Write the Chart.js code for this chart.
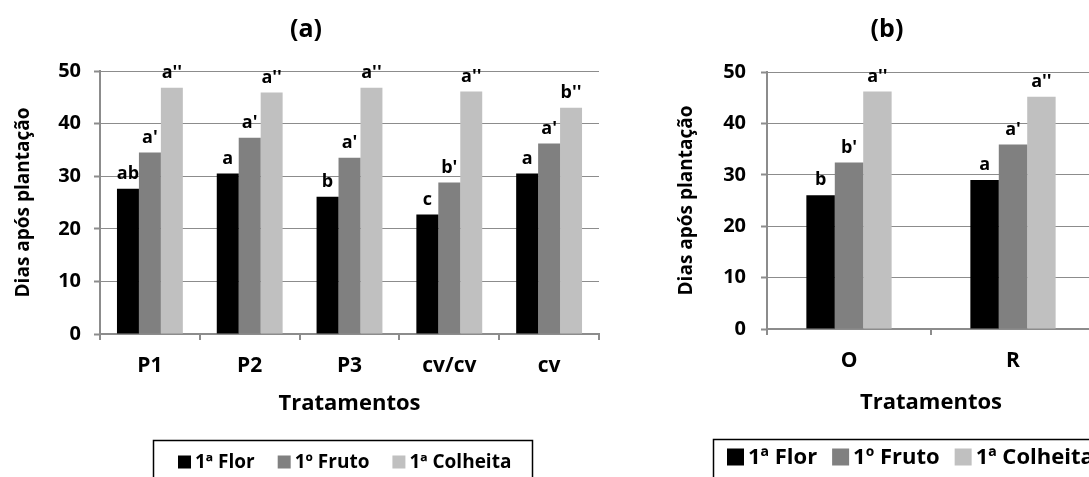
<!DOCTYPE html>
<html>
<head>
<meta charset="utf-8">
<script src="https://cdn.jsdelivr.net/npm/chart.js@4.4.1/dist/chart.umd.min.js"></script>
<style>
  html, body { margin: 0; padding: 0; background: #fff; overflow: hidden; width: 1089px; height: 477px; }
  canvas { position: absolute; top: 0; }
  #graficoA { left: 0; }
  #graficoB { left: 665px; }
</style>
</head>
<body>
<canvas id="graficoA" width="620" height="477"></canvas>
<canvas id="graficoB" width="435" height="477"></canvas>
<script>
// ==== dados ====
const series = ['1ª Flor', '1º Fruto', '1ª Colheita'];
const cores = ['#000000', '#808080', '#c0c0c0'];

// grafico (a)
const categoriasA = ['P1', 'P2', 'P3', 'cv/cv', 'cv'];
const florA = [27.6, 30.5, 26.1, 22.7, 30.5];
const frutoA = [34.5, 37.3, 33.5, 28.8, 36.2];
const colheitaA = [46.8, 45.9, 46.8, 46.1, 43.0];
const letrasFlorA = ['ab', 'a', 'b', 'c', 'a'];
const letrasFrutoA = ["a'", "a'", "a'", "b'", "a'"];
const letrasColheitaA = ["a''", "a''", "a''", "a''", "b''"];

// grafico (b)
const categoriasB = ['O', 'R'];
const florB = [26.0, 29.0];
const frutoB = [32.4, 35.9];
const colheitaB = [46.2, 45.2];
const letrasFlorB = ['b', 'a'];
const letrasFrutoB = ["b'", "a'"];
const letrasColheitaB = ["a''", "a''"];

const yTicks = { min: 0, max: 50, step: 10 };

const FONTE = '"Open Sans", sans-serif';
const CINZA = '#8c8c8c';

// letras de significancia por cima das barras
const letras = {
  id: 'letras',
  afterDatasetsDraw(chart, args, opts) {
    const ctx = chart.ctx;
    ctx.save();
    ctx.font = 'bold ' + opts.size + 'px ' + FONTE;
    ctx.fillStyle = '#000';
    ctx.textAlign = 'center';
    ctx.textBaseline = 'bottom';
    chart.data.datasets.forEach((ds, d) => {
      chart.getDatasetMeta(d).data.forEach((bar, i) => {
        ctx.fillText(ds.letras[i], bar.x, bar.y - opts.gap);
      });
    });
    ctx.restore();
  }
};

// titulo (a)/(b) e legenda com caixa
const extras = {
  id: 'extras',
  afterDraw(chart, args, opts) {
    const ctx = chart.ctx;
    ctx.save();
    ctx.fillStyle = '#000';
    ctx.font = 'bold ' + opts.tituloSize + 'px ' + FONTE;
    ctx.textAlign = 'center';
    ctx.textBaseline = 'middle';
    ctx.fillText(opts.titulo, opts.tituloX, opts.tituloY);

    // legenda
    const L = opts.legenda;
    ctx.font = 'bold ' + L.size + 'px ' + FONTE;
    ctx.textAlign = 'left';
    ctx.strokeStyle = '#000';
    ctx.lineWidth = 1.5;
    ctx.strokeRect(L.x + 0.5, L.y + 0.5, L.w, 60);
    let x = L.x + L.pad;
    chart.data.datasets.forEach((ds) => {
      ctx.fillStyle = ds.backgroundColor;
      ctx.fillRect(x, L.yText - L.box / 2, L.box, L.box);
      ctx.fillStyle = '#000';
      ctx.fillText(ds.label, x + L.box + 4, L.yText + 1);
      x += L.box + 4 + ctx.measureText(ds.label).width + L.gap;
    });
    ctx.restore();
  }
};

function criaGrafico(id, categorias, valores, letrasSerie, cfg) {
  const datasets = series.map((nome, s) => ({
    label: nome,
    data: valores[s],
    letras: letrasSerie[s],
    backgroundColor: cores[s],
    borderWidth: 0,
    categoryPercentage: cfg.catPct,
    barPercentage: 1.0
  }));

  return new Chart(document.getElementById(id), {
    type: 'bar',
    data: { labels: categorias, datasets },
    options: {
      responsive: false,
      animation: false,
      layout: { padding: { left: 0, top: cfg.top, right: cfg.right, bottom: cfg.bottom } },
      scales: {
        x: {
          offset: true,
          afterFit(scale) { scale.height = cfg.xAltura; },
          grid: { offset: true, drawOnChartArea: false, drawTicks: true, tickLength: 6, color: CINZA, lineWidth: 2 },
          border: { display: true, color: CINZA, width: 2 },
          ticks: { color: '#000', font: { family: FONTE, size: 21, weight: 'bold' }, padding: cfg.xPad },
          title: { display: true, text: 'Tratamentos', color: '#000', font: { family: FONTE, size: 22, weight: 'bold' }, padding: { top: 0, bottom: 3 } }
        },
        y: {
          min: yTicks.min,
          max: yTicks.max,
          afterFit(scale) { scale.width = cfg.yLargura; },
          grid: {
            color: (c) => c.tick && c.tick.value === 0 ? 'rgba(0,0,0,0)' : CINZA,
            lineWidth: 1,
            borderDash: [2, 2],
            tickColor: CINZA,
            tickWidth: 2,
            tickBorderDash: [],
            tickLength: 6
          },
          border: { display: true, color: CINZA, width: 2 },
          ticks: { stepSize: yTicks.step, color: '#000', font: { family: FONTE, size: 20, weight: 'bold' }, padding: cfg.yPad },
          title: { display: true, text: 'Dias após plantação', color: '#000', font: { family: FONTE, size: 19, weight: 'bold' }, padding: { top: cfg.yTitPad, bottom: 0 } }
        }
      },
      plugins: {
        legend: { display: false },
        tooltip: { enabled: false },
        letras: { size: 18, gap: 6 },
        extras: cfg.extras
      }
    },
    plugins: [letras, extras]
  });
}

criaGrafico('graficoA', categoriasA,
  [florA, frutoA, colheitaA],
  [letrasFlorA, letrasFrutoA, letrasColheitaA],
  {
    catPct: 0.66, top: 71, right: 21, bottom: 57, xAltura: 86, yLargura: 100,
    xPad: 13, yPad: 13, yTitPad: 12,
    extras: {
      titulo: '(a)', tituloSize: 25, tituloX: 306, tituloY: 30,
      legenda: { x: 153, y: 440, w: 379, yText: 462, size: 19, box: 13, pad: 25, gap: 23 }
    }
  });

criaGrafico('graficoB', categoriasB,
  [florB, frutoB, colheitaB],
  [letrasFlorB, letrasFrutoB, letrasColheitaB],
  {
    catPct: 0.52, top: 72, right: 5, bottom: 58, xAltura: 90, yLargura: 102,
    xPad: 13, yPad: 15, yTitPad: 10,
    extras: {
      titulo: '(b)', tituloSize: 25, tituloX: 222, tituloY: 30,
      legenda: { x: 48, y: 439, w: 430, yText: 457, size: 22, box: 17, pad: 14, gap: 15 }
    }
  });
</script>
</body>
</html>
